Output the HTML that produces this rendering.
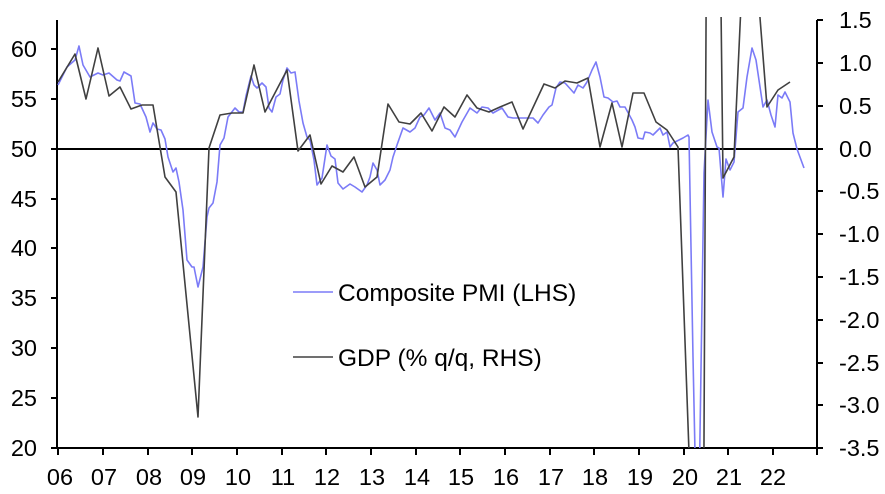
<!DOCTYPE html>
<html><head><meta charset="utf-8"><style>
html,body{margin:0;padding:0;background:#fff;}
svg{display:block;font-family:"Liberation Sans",Arial,sans-serif;}
</style></head><body>
<svg width="885" height="494" viewBox="0 0 885 494" xmlns="http://www.w3.org/2000/svg">
<defs><clipPath id="c"><rect x="57" y="17" width="760" height="431"/></clipPath></defs>
<g stroke="#000" stroke-width="2" fill="none">
<line x1="57" y1="20" x2="57" y2="449"/>
<line x1="817" y1="20" x2="817" y2="449"/>
<line x1="57" y1="448" x2="817" y2="448"/>
<line x1="57" y1="149" x2="817" y2="149"/>
<path d="M51 49H57M51 99H57M51 149H57M51 199H57M51 248H57M51 298H57M51 348H57M51 398H57M51 448H57"/>
<path d="M817 20H823M817 63H823M817 106H823M817 149H823M817 191H823M817 234H823M817 277H823M817 320H823M817 363H823M817 405H823M817 448H823"/>
<path d="M58 448V455M103 448V455M148 448V455M192 448V455M237 448V455M282 448V455M326 448V455M371 448V455M416 448V455M460 448V455M505 448V455M550 448V455M594 448V455M639 448V455M684 448V455M728 448V455M773 448V455M817 448V455"/>
</g>
<g clip-path="url(#c)" fill="none" stroke-width="1.6" stroke-linejoin="round">
<polyline stroke="#7b7bf7" points="58,85 67,67 75,60 79,46 83,65 90,77 98,73 103,75 109,73 117,80 120,81 124,72 131,76 135,103 140,104 146,117 150,132 153,123 157,129 161,130 165,139 168,157 173,172 176,168 179,182 183,210 187,260 192,267 194,267 198,287 203,267 207,217 209,208 213,203 217,182 220,145 224,138 228,117 235,108 239,112 243,112 246,96 251,76 254,85 257,88 262,83 266,87 269,108 272,112 276,97 280,94 283,80 287,68 291,73 295,72 299,101 303,123 307,137 310,140 314,160 317,185 322,178 327,145 331,156 335,159 338,183 343,189 350,184 355,187 362,192 367,185 370,177 373,163 377,170 380,185 385,180 390,170 393,157 397,145 403,128 410,132 415,128 420,117 424,115 429,108 435,120 440,113 445,128 450,130 455,137 462,122 470,108 477,113 482,107 488,108 493,113 502,108 508,117 513,118 533,118 538,123 543,115 549,107 552,105 556,88 560,82 565,83 574,93 578,85 583,88 587,82 592,70 596,62 600,77 604,97 608,98 613,102 617,101 620,107 625,107 632,120 635,127 638,138 643,139 645,132 650,133 653,135 660,128 663,135 667,132 670,147 673,143 683,138 688,135 689,137 693,357 696,500 699,500 704,173 708,100 712,132 717,147 719,148 723,197 726,159 730,170 734,162 738,112 743,108 747,77 752,48 756,60 763,107 767,100 771,115 775,127 778,95 782,98 785,92 790,102 793,133 797,149 804,168"/>
<polyline stroke="#404040" points="58,82 75,54 86,99 98,48 109,96 120,87 131,109 142,105 153,105 165,177 176,192 198,417 209,148 220,115 232,113 243,113 254,65 265,112 287,70 298,151 310,135 321,184 332,166 343,172 354,157 365,187 377,177 388,104 399,122 410,124 421,113 432,131 444,107 455,117 467,95 477,108 489,112 500,107 512,102 523,129 544,84 555,88 565,81 577,83 588,78 600,147 612,103 622,147 633,93 644,93 656,122 667,130 678,147 690,480 703.8,480 706.2,-10 720.8,-10 723,178 734,157 741,5 759,5 767,107 778,90 790,82"/>
</g>
<g font-size="23.5" fill="#000" text-anchor="end">
<text x="37" y="57">60</text><text x="37" y="107">55</text><text x="37" y="157">50</text><text x="37" y="207">45</text><text x="37" y="256">40</text><text x="37" y="306">35</text><text x="37" y="356">30</text><text x="37" y="406">25</text><text x="37" y="456">20</text>
</g>
<g font-size="23.5" fill="#000">
<text x="839" y="28">1.5</text><text x="839" y="71">1.0</text><text x="839" y="114">0.5</text><text x="839" y="157">0.0</text><text x="839" y="199">-0.5</text><text x="839" y="242">-1.0</text><text x="839" y="285">-1.5</text><text x="839" y="328">-2.0</text><text x="839" y="371">-2.5</text><text x="839" y="413">-3.0</text><text x="839" y="456">-3.5</text>
</g>
<g font-size="23.5" fill="#000" text-anchor="middle">
<text x="60" y="485">06</text><text x="104" y="485">07</text><text x="149" y="485">08</text><text x="193" y="485">09</text><text x="238" y="485">10</text><text x="283" y="485">11</text><text x="327" y="485">12</text><text x="372" y="485">13</text><text x="417" y="485">14</text><text x="461" y="485">15</text><text x="506" y="485">16</text><text x="551" y="485">17</text><text x="595" y="485">18</text><text x="640" y="485">19</text><text x="685" y="485">20</text><text x="729" y="485">21</text><text x="773" y="485">22</text>
</g>
<line x1="293" y1="292" x2="333" y2="292" stroke="#7b7bf7" stroke-width="1.6"/>
<text x="338" y="301" font-size="24.5">Composite PMI (LHS)</text>
<line x1="293" y1="357" x2="333" y2="357" stroke="#404040" stroke-width="1.6"/>
<text x="338" y="366" font-size="24.5">GDP (% q/q, RHS)</text>
</svg>
</body></html>
